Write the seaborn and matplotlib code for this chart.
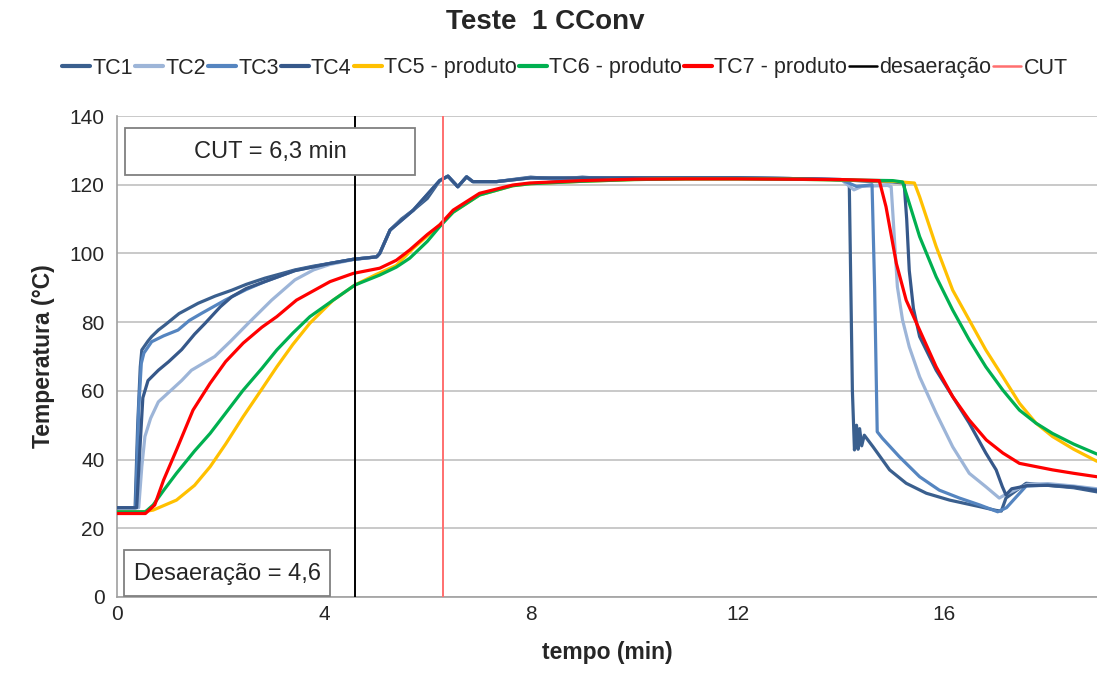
import matplotlib
matplotlib.use("Agg")
import matplotlib.pyplot as plt
import seaborn as sns
import pandas as pd
from matplotlib.patches import Rectangle
from matplotlib.lines import Line2D

# ---------------- data ----------------
tc1_t = [0, 0.35, 0.40, 0.45, 0.48, 0.6, 0.67, 0.8, 0.93, 1.2, 1.57, 1.9, 2.22, 2.5, 2.86, 3.2, 3.44, 3.8,
         4.12, 4.57, 5.02, 5.08, 5.28, 5.5, 5.73, 6.0, 6.24, 6.4, 6.59, 6.76, 6.88, 7.34, 8.0, 8.5, 9, 9.5, 10,
         11, 12, 13, 13.8, 14.1, 14.16, 14.22, 14.26, 14.3, 14.33, 14.36, 14.4, 14.45, 14.62, 14.94, 15.26,
         15.65, 16.1, 16.68, 17.0, 17.1, 17.19, 17.58, 18.0, 18.5, 18.95]
tc1_v = [26, 26, 50, 67, 71.9, 74.5, 75.8, 77.7, 79.2, 82.5, 85.5, 87.6, 89.3, 91.0, 92.8, 94.2, 95.2, 96.3,
         97.1, 98.3, 99, 100, 106.8, 110, 112.6, 116, 121.2, 122.5, 119.4, 122.3, 120.9, 120.9, 122.2, 121.6,
         122.2, 121.7, 122, 122, 122, 121.8, 121.5, 121.2, 120, 60, 42.8, 50, 43, 49, 44, 47.1, 43.7, 37,
         33.1, 30.2, 28.2, 26.3, 25.2, 25, 28.8, 33.1, 32.5, 31.8, 30.6]

tc2_t = [0, 0.42, 0.48, 0.54, 0.65, 0.8, 1.12, 1.25, 1.44, 1.89, 2.2, 2.54, 2.99, 3.44, 3.8, 4.12, 4.57,
         5.02, 5.08, 5.28, 5.73, 6.24, 6.4, 6.59, 6.76, 6.88, 7.34, 8, 9, 10, 11, 12, 13, 14, 14.25, 14.4,
         14.9, 14.97, 15.03, 15.09, 15.19, 15.32, 15.52, 15.84, 16.16, 16.48, 16.8, 17.06, 17.2, 17.6, 18,
         18.5, 18.95]
tc2_v = [26, 26, 38, 46.7, 52, 56.8, 61.2, 63, 66, 70, 74.5, 79.7, 86.4, 92.3, 95.2, 96.8, 98.2,
         99, 100, 106.8, 112.6, 121.2, 122.5, 119.4, 122.3, 120.9, 120.9, 122, 122, 122, 122, 122, 121.8,
         121.5, 118.5, 119.5, 119.8, 119.4, 104.9, 90.3, 80.6, 72.8, 64.1, 53.5, 43.7, 36, 32.1, 28.8, 30,
         32.8, 33, 32.3, 31.5]

tc3_t = [0, 0.36, 0.42, 0.47, 0.52, 0.67, 0.9, 1.18, 1.4, 1.64, 2.09, 2.5, 2.86, 3.44, 4.12, 4.57, 5.02,
         5.08, 5.28, 5.73, 6.24, 6.4, 6.59, 6.76, 6.88, 7.34, 8, 8.7, 9, 10, 11, 12, 13, 14.0, 14.3, 14.5,
         14.6, 14.65, 14.7, 14.8, 15.13, 15.52, 15.9, 16.29, 16.68, 17.03, 17.2, 17.58, 18.0, 18.5, 18.95]
tc3_v = [26, 26, 55, 68, 71, 74.3, 76, 77.7, 80.5, 82.6, 86.4, 89.5, 91.8, 95, 97.1, 98.3, 99,
         100, 106.8, 112.6, 121.2, 122.5, 119.4, 122.3, 120.9, 120.9, 122, 121.6, 122, 122, 122, 122, 121.8,
         121.5, 119.5, 119.8, 120, 90, 48.1, 46.2, 40.8, 35, 31.1, 28.8, 26.8, 24.8, 26, 32.3, 32.6, 32, 31.2]

tc4_t = [0, 0.38, 0.45, 0.5, 0.6, 0.8, 1.0, 1.25, 1.5, 1.7, 2.0, 2.22, 2.5, 2.86, 3.44, 4.12, 4.57, 5.02,
         5.08, 5.28, 5.73, 6.24, 6.4, 6.59, 6.76, 6.88, 7.34, 8, 9, 10, 11, 12, 13, 14, 14.5, 15.0, 15.22,
         15.27, 15.32, 15.4, 15.52, 15.84, 16.16, 16.48, 16.8, 17.0, 17.12, 17.19, 17.3, 17.6, 18.0, 18.5,
         18.95]
tc4_v = [26, 26, 45, 58, 63, 66, 68.5, 72, 76.5, 79.6, 84.5, 87.4, 89.8, 91.8, 95, 97.1, 98.3, 99,
         100, 106.8, 112.6, 121.2, 122.5, 119.4, 122.3, 120.9, 120.9, 122, 122, 122, 122, 122, 121.8, 121.5,
         121.0, 120.8, 120.5, 110, 95, 84, 75.8, 66, 58.3, 50.6, 41.9, 37, 32.1, 29.7, 31.5, 32.4, 32.5, 32,
         31]

tc5_t = [0, 0.5, 0.7, 1.15, 1.5, 1.8, 2.1, 2.44, 2.8, 3.09, 3.4, 3.73, 4.18, 4.6, 5.0, 5.4, 5.73, 6.24,
         6.5, 7.01, 7.65, 8, 9, 10, 11, 12, 13, 14, 15, 15.42, 15.52, 15.84, 16.16, 16.48, 16.8, 17.13,
         17.45, 17.77, 18.09, 18.5, 18.95]
tc5_v = [24.8, 24.8, 25.3, 28.2, 32.5, 37.9, 44.5, 52.5, 60.5, 67, 73.5, 79.7, 86.4, 90.8, 93.8, 96.5,
         101.5, 108.3, 112, 117, 119.7, 120.3, 121, 121.5, 121.7, 121.7, 121.6, 121.4, 121, 120.5, 116.5,
         102, 89.3, 80.6, 71.9, 64.1, 56.4, 50.6, 46.7, 43.0, 39.5]

tc6_t = [0, 0.55, 0.7, 0.9, 1.15, 1.5, 1.8, 2.1, 2.44, 2.8, 3.09, 3.4, 3.73, 4.18, 4.6, 5.08, 5.4, 5.66,
         6.0, 6.24, 6.5, 7.01, 7.65, 8, 9, 10, 11, 12, 13, 14, 15.0, 15.19, 15.32, 15.52, 15.84, 16.16,
         16.48, 16.8, 17.13, 17.45, 17.77, 18.09, 18.5, 18.95]
tc6_v = [24.8, 24.8, 26.8, 31, 36, 42.5, 47.6, 53.5, 60.2, 66.5, 71.9, 76.8, 81.6, 86.4, 90.8, 93.7, 96,
         98.6, 103.5, 107.8, 112, 117, 119.7, 120.3, 121, 121.5, 121.7, 121.7, 121.6, 121.4, 121.2, 120.8,
         114.6, 104.9, 93.2, 83.5, 74.8, 67, 60.2, 54.4, 50.6, 47.6, 44.5, 41.6]

tc7_t = [0, 0.55, 0.73, 0.9, 1.15, 1.47, 1.8, 2.1, 2.44, 2.8, 3.09, 3.47, 4.12, 4.57, 5.08, 5.4, 5.66,
         6.0, 6.24, 6.5, 7.01, 7.65, 7.98, 9, 10, 11, 12, 13, 14, 14.74, 14.87, 15.07, 15.26, 15.52, 15.84,
         16.16, 16.48, 16.81, 17.13, 17.45, 18.09, 18.5, 18.95]
tc7_v = [24.3, 24.3, 26.8, 34, 42.8, 54.4, 62.2, 68.5, 73.9, 78.5, 81.6, 86.4, 91.8, 94.2, 95.7, 98, 101,
         105.5, 108.3, 112.6, 117.5, 119.9, 120.5, 121.2, 121.6, 121.7, 121.7, 121.6, 121.5, 121.2, 113.6,
         97.1, 86.4, 77.7, 67, 58.3, 51.5, 45.7, 41.9, 38.9, 37, 36, 35]

series_names = ["TC1", "TC2", "TC3", "TC4", "TC5 - produto", "TC6 - produto", "TC7 - produto"]
series_t = [tc1_t, tc2_t, tc3_t, tc4_t, tc5_t, tc6_t, tc7_t]
series_v = [tc1_v, tc2_v, tc3_v, tc4_v, tc5_v, tc6_v, tc7_v]
series_colors = ["#3A5F8E", "#9DB5D8", "#5585C0", "#36588A", "#FFC000", "#00B050", "#FF0000"]

desaeracao_t = 4.6
cut_t = 6.3
title = "Teste  1 CConv"
x_ticks = [0, 4, 8, 12, 16]
y_ticks = [0, 20, 40, 60, 80, 100, 120, 140]

# ---------------- plot ----------------
sns.set_style("white")
plt.rcParams["font.family"] = ["Liberation Sans", "DejaVu Sans"]

fig = plt.figure(figsize=(10.97, 6.82), dpi=100)
ax = fig.add_axes([117 / 1097, 85 / 682, 980 / 1097, 481 / 682])

for name, t, v, c in zip(series_names, series_t, series_v, series_colors):
    df = pd.DataFrame({"t": t, "v": v})
    sns.lineplot(data=df, x="t", y="v", ax=ax, color=c, linewidth=2.3, sort=False,
                 estimator=None, label=name, zorder=3)

ax.axvline(desaeracao_t, color="black", linewidth=1.4, zorder=4, label="desaeração")
ax.axvline(cut_t, color="#FF6F6F", linewidth=1.4, zorder=4, label="CUT")

ax.set_xlim(0, 18.95)
ax.set_ylim(0, 140)
ax.set_xticks(x_ticks)
ax.set_yticks(y_ticks)
ax.tick_params(axis="both", labelsize=15, length=0)
ax.tick_params(axis="y", pad=9)
ax.tick_params(axis="x", pad=6)
ax.yaxis.grid(True, color="#C0C0C0", linewidth=1.2, zorder=0)
ax.xaxis.grid(False)
ax.set_axisbelow(True)
for s in ["top", "right"]:
    ax.spines[s].set_visible(False)
for s in ["left", "bottom"]:
    ax.spines[s].set_color("#A0A0A0")
    ax.spines[s].set_linewidth(1.2)

ax.set_xlabel("tempo (min)", fontsize=16.5, fontweight="bold", labelpad=12)
ax.set_ylabel("Temperatura (°C)", fontsize=16.5, fontweight="bold", labelpad=10)

# annotation boxes
ax.add_patch(Rectangle((0.155, 122.8), 5.6, 13.7, facecolor="white", edgecolor="#808080",
                       linewidth=1.3, zorder=5))
ax.text(2.96, 129.6, "CUT = 6,3 min", fontsize=17, ha="center", va="center", zorder=6)
ax.add_patch(Rectangle((0.135, 0.3), 3.98, 13.4, facecolor="white", edgecolor="#808080",
                       linewidth=1.3, zorder=5))
ax.text(2.13, 6.8, "Desaeração = 4,6", fontsize=17, ha="center", va="center", zorder=6)

fig.text(0.497, 1 - 22 / 682, title, fontsize=20, fontweight="bold", ha="center", va="center")

handles, labels = ax.get_legend_handles_labels()
if ax.legend_:
    ax.legend_.remove()
handles = [Line2D([0], [0], color=h.get_color(), linewidth=3 if i < 7 else 1.8) for i, h in enumerate(handles)]
fig.legend(handles, labels, loc="center", bbox_to_anchor=(0.515, 1 - 68 / 682), ncol=9,
           frameon=False, fontsize=15.5, handlelength=1.3, handletextpad=0.1, columnspacing=0.1,
           borderpad=0)

fig.savefig("out.png", dpi=100)
